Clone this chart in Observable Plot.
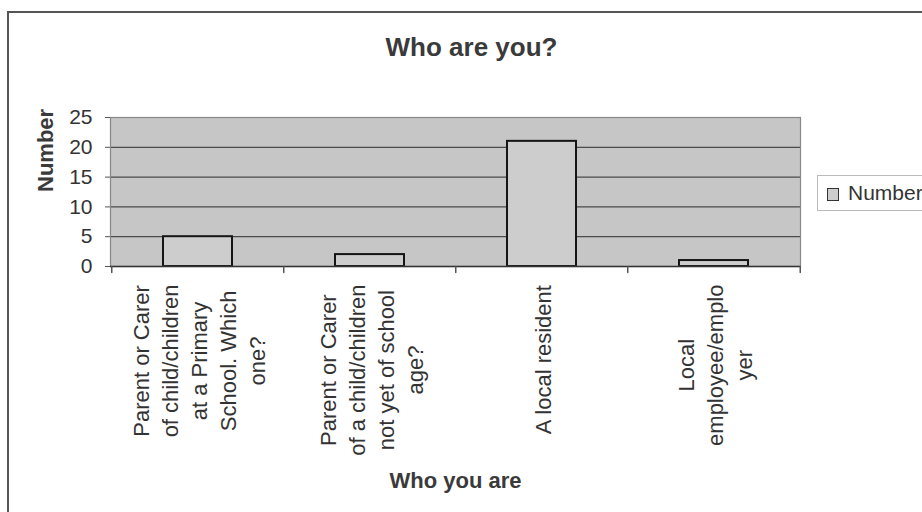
<!DOCTYPE html>
<html>
<head>
<meta charset="utf-8">
<script src="https://cdn.jsdelivr.net/npm/d3@7"></script>
<script src="https://cdn.jsdelivr.net/npm/@observablehq/plot@0.6"></script>
<style>
  html, body { margin: 0; padding: 0; background: #fff; }
  #wrap { position: relative; width: 922px; height: 512px; overflow: hidden; font-family: "Liberation Sans", Arial, sans-serif; color: #333; }
  #wrap svg { position: absolute; left: 0; top: 0; }
  #border { position: absolute; left: 7px; top: 11px; width: 1200px; height: 1200px; border-left: 2px solid #555; border-top: 2px solid #555; }
  #legend { position: absolute; left: 817px; top: 175px; width: 130px; height: 36px; border: 1px solid #bbb; box-sizing: border-box; }
  #legend .sw { position: absolute; left: 9px; top: 12px; width: 10px; height: 11px; background: #cdcdcd; border: 1.5px solid #333; }
  #legend .lb { position: absolute; left: 30px; top: 5px; font-size: 21px; line-height: 24px; color: #333; white-space: nowrap; }
</style>
</head>
<body>
<div id="wrap">
  <div id="border"></div>
  <div id="legend"><div class="sw"></div><div class="lb">Number</div></div>
</div>
<script>
const categories = [
  "Parent or Carer\nof child/children\nat a Primary\nSchool. Which\none?",
  "Parent or Carer\nof a child/children\nnot yet of school\nage?",
  "A local resident",
  "Local\nemployee/emplo\nyer"
];
const values = [5, 2, 21, 1];
const yTicks = [0, 5, 10, 15, 20, 25];
const title = "Who are you?";
const xTitle = "Who you are";
const yTitle = "Number";

const data = categories.map((c, i) => ({cat: c, value: values[i]}));

const W = 922, H = 512;
const mT = 117, mR = 122, mB = 246, mL = 110;
const FONT = "'Liberation Sans', Arial, sans-serif";
const step = (W - mL - mR) / categories.length;

const ctx = document.createElement("canvas").getContext("2d");
ctx.font = "22px 'Liberation Sans'";
const maxW = (s) => Math.max(...s.split("\n").map(l => ctx.measureText(l).width));

const tickShape = {draw(c, l) { c.moveTo(0, 0); c.lineTo(0, -l); }};

const labelMarks = categories.map(c => Plot.text([c], {
  x: d => d, text: d => d, frameAnchor: "bottom", rotate: -90,
  textAnchor: "middle", lineAnchor: "middle", lineHeight: 1.32,
  fontSize: 22, fill: "#333", dy: 18 + maxW(c) / 2
}));

const chart = Plot.plot({
  width: W, height: H,
  marginTop: mT, marginRight: mR, marginBottom: mB, marginLeft: mL,
  style: {fontFamily: FONT, color: "#333", background: "transparent", overflow: "visible"},
  x: {domain: categories, paddingInner: 0.6, paddingOuter: 0.3, axis: null},
  y: {domain: [0, 25]},
  marks: [
    Plot.frame({fill: "#c6c6c6", stroke: null}),
    Plot.ruleY(yTicks.filter(t => t > 0 && t < 25), {stroke: "#4a4a4a", strokeWidth: 1.3}),
    Plot.barY(data, {x: "cat", y: "value", fill: "#cdcdcd", stroke: "#151515", strokeWidth: 2}),
    Plot.frame({stroke: "#888", strokeWidth: 1.2}),
    Plot.ruleY([0], {stroke: "#333", strokeWidth: 1.5}),
    Plot.axisY({ticks: yTicks, tickSize: 5, tickPadding: 13, fontSize: 21, label: null, stroke: "#555", fill: "#333"}),
    Plot.vector(categories, {x: d => d, frameAnchor: "bottom", length: 6, rotate: 180, anchor: "start", shape: tickShape, stroke: "#555", dx: -step / 2}),
    Plot.vector([categories[categories.length - 1]], {x: d => d, frameAnchor: "bottom", length: 6, rotate: 180, anchor: "start", shape: tickShape, stroke: "#555", dx: step / 2}),
    ...labelMarks,
    Plot.text([title], {text: d => d, frameAnchor: "top", dx: 16, dy: -62, lineAnchor: "bottom", fontSize: 26, fontWeight: "bold", fill: "#3a3a3a"}),
    Plot.text([xTitle], {text: d => d, frameAnchor: "bottom", dy: 221, lineAnchor: "bottom", fontSize: 22, fontWeight: "bold", fill: "#3a3a3a"}),
    Plot.text([yTitle], {text: d => d, frameAnchor: "left", dx: -65, rotate: -90, lineAnchor: "middle", fontSize: 22, fontWeight: "bold", fill: "#3a3a3a"})
  ]
});
document.getElementById("wrap").prepend(chart);
</script>
</body>
</html>
